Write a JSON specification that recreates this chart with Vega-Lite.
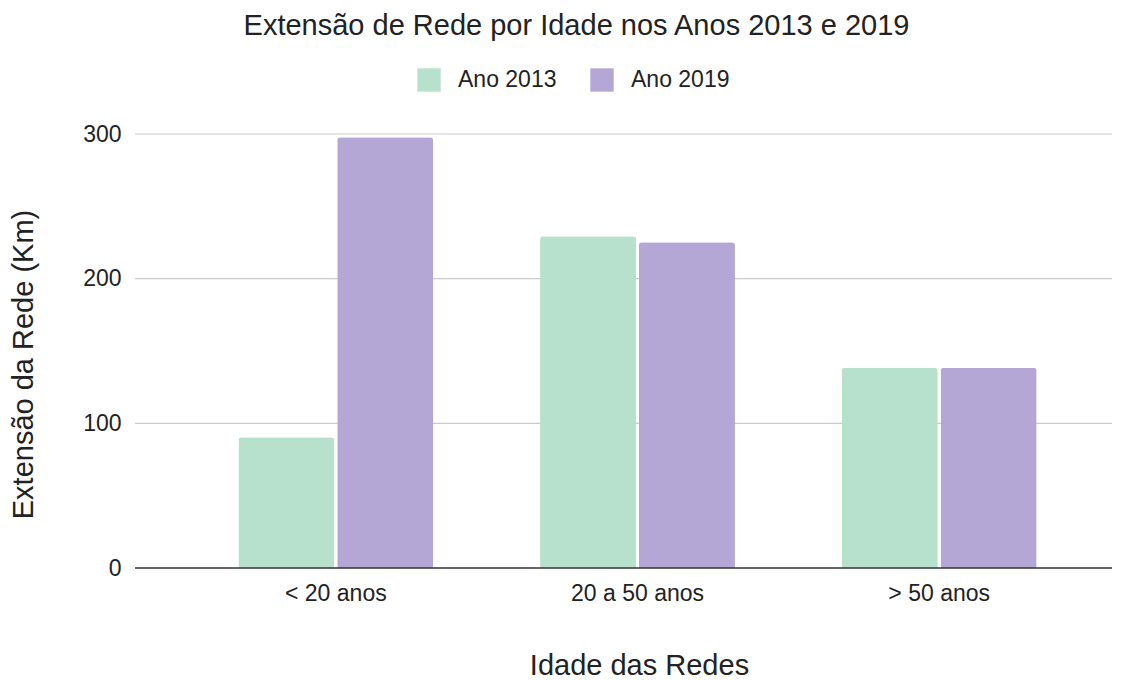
{
  "$schema": "https://vega.github.io/schema/vega-lite/v6.json",
  "width": 977,
  "height": 434,
  "autosize": {"type": "none"},
  "padding": {"left": 135, "top": 134, "right": 28, "bottom": 112},
  "background": "white",
  "config": {
    "font": "Liberation Sans",
    "view": {"stroke": null}
  },
  "title": {
    "text": "Extensão de Rede por Idade nos Anos 2013 e 2019",
    "fontSize": 29,
    "fontWeight": "normal",
    "color": "#222222",
    "anchor": "middle",
    "dx": -47,
    "offset": 27
  },
  "datasets": {
    "bars": [
      {"idade": "< 20 anos", "ano": "Ano 2013", "km": 90.3},
      {"idade": "< 20 anos", "ano": "Ano 2019", "km": 297.7},
      {"idade": "20 a 50 anos", "ano": "Ano 2013", "km": 229.3},
      {"idade": "20 a 50 anos", "ano": "Ano 2019", "km": 225.1},
      {"idade": "> 50 anos", "ano": "Ano 2013", "km": 138.5},
      {"idade": "> 50 anos", "ano": "Ano 2019", "km": 138.4}
    ],
    "grid": [{"v": 100}, {"v": 200}, {"v": 300}],
    "zero": [{"v": 0}]
  },
  "layer": [
    {
      "data": {"name": "grid"},
      "mark": {"type": "rule", "color": "#cccccc", "strokeWidth": 1.2},
      "encoding": {
        "y": {"field": "v", "type": "quantitative"}
      }
    },
    {
      "data": {"name": "bars"},
      "mark": {"type": "bar", "cornerRadiusTopLeft": 3, "cornerRadiusTopRight": 3},
      "encoding": {
        "x": {
          "field": "idade",
          "type": "nominal",
          "sort": ["< 20 anos", "20 a 50 anos", "> 50 anos"],
          "scale": {"range": [50, 955], "paddingInner": 0.354, "paddingOuter": 0.177},
          "axis": {
            "title": "Idade das Redes",
            "titleFontSize": 29,
            "titleFontWeight": "normal",
            "titleColor": "#222222",
            "titlePadding": 46,
            "titleX": 504,
            "labelFontSize": 23,
            "labelColor": "#222222",
            "labelAngle": 0,
            "labelPadding": 14,
            "ticks": false,
            "domain": false
          }
        },
        "xOffset": {
          "field": "ano",
          "type": "nominal",
          "scale": {"paddingInner": 0.028}
        },
        "y": {
          "field": "km",
          "type": "quantitative",
          "scale": {"domain": [0, 300], "nice": false},
          "axis": {
            "title": "Extensão da Rede (Km)",
            "titleFontSize": 29,
            "titleFontWeight": "normal",
            "titleColor": "#222222",
            "titlePadding": 44,
            "titleY": 230,
            "labelFontSize": 23,
            "labelColor": "#222222",
            "labelPadding": 14,
            "values": [0, 100, 200, 300],
            "ticks": false,
            "domain": false,
            "grid": false
          }
        },
        "color": {
          "field": "ano",
          "type": "nominal",
          "scale": {"domain": ["Ano 2013", "Ano 2019"], "range": ["#b7e1cd", "#b4a7d6"]},
          "legend": {
            "title": null,
            "orient": "none",
            "direction": "horizontal",
            "legendX": 282,
            "legendY": -66,
            "symbolType": "square",
            "symbolSize": 547,
            "symbolStrokeWidth": 0,
            "labelFontSize": 23,
            "labelColor": "#222222",
            "labelOffset": 17,
            "columnPadding": 33,
            "padding": 0
          }
        }
      }
    },
    {
      "data": {"name": "zero"},
      "mark": {"type": "rule", "color": "#333333", "strokeWidth": 1.5},
      "encoding": {
        "y": {"field": "v", "type": "quantitative"}
      }
    }
  ]
}
